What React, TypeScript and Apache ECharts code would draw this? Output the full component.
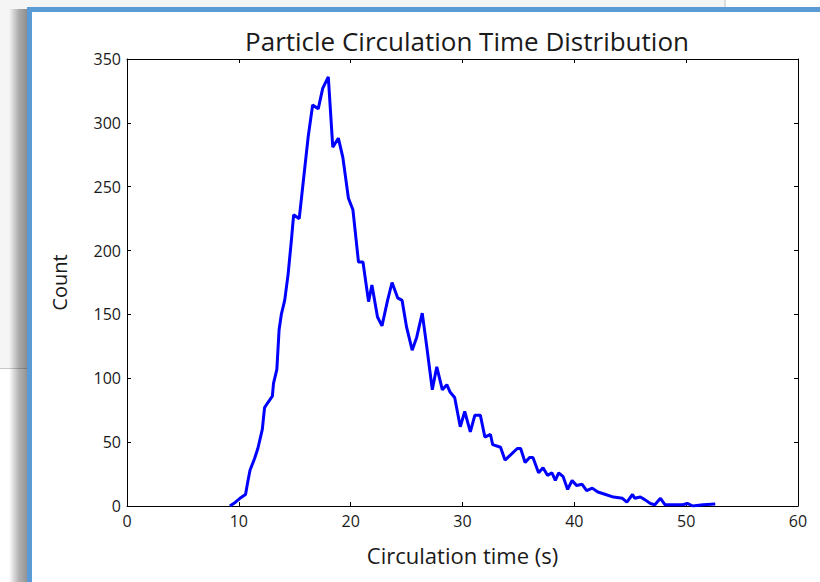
import React, { useEffect, useRef } from "react";
import * as echarts from "echarts";

const titleText = "Particle Circulation Time Distribution";
const xAxisName = "Circulation time (s)";
const yAxisName = "Count";

const circulationTime = [
  9.2, 9.7, 10.1, 10.6, 10.8, 11.0, 11.4, 11.7, 12.1, 12.3, 12.6, 13.0, 13.1, 13.4,
  13.6, 13.8, 14.1, 14.4, 14.7, 14.9, 15.4, 15.8, 16.2, 16.6, 17.1, 17.5, 18.0, 18.4,
  18.9, 19.3, 19.8, 20.2, 20.7, 21.1, 21.6, 21.9, 22.4, 22.8, 23.3, 23.7, 24.2, 24.6,
  25.0, 25.5, 25.9, 26.4, 26.8, 27.3, 27.7, 28.2, 28.6, 28.9, 29.3, 29.8, 30.2, 30.7,
  31.1, 31.6, 32.0, 32.5, 32.7, 33.4, 33.8, 34.3, 34.9, 35.2, 35.6, 36.0, 36.3, 36.8,
  37.2, 37.6, 38.0, 38.3, 38.6, 39.0, 39.4, 39.8, 40.2, 40.7, 41.1, 41.6, 42.1, 42.8,
  43.5, 44.3, 44.7, 45.2, 45.4, 45.9, 46.3, 46.8, 47.2, 47.7, 48.1, 48.8, 49.7, 50.1,
  50.6, 51.5, 52.6,
];

const counts = [
  0, 3, 6, 9, 19, 28, 37, 45, 60, 77, 81, 86, 96, 107,
  138, 150, 161, 181, 208, 228, 225, 257, 289, 314, 311, 327, 336, 281,
  288, 273, 241, 232, 191, 191, 160, 173, 148, 141, 161, 175, 163, 161,
  140, 122, 132, 151, 125, 91, 109, 91, 95, 89, 85, 62, 74, 58,
  71, 71, 54, 56, 48, 46, 36, 40, 45, 45, 34, 38, 38, 26,
  30, 24, 26, 20, 26, 23, 13, 20, 16, 17, 12, 14, 11, 9,
  7, 6, 3, 9, 6, 7, 5, 2, 1, 6, 1, 1, 1, 2,
  0, 1, 1.5,
];

const xTicks = [0, 10, 20, 30, 40, 50, 60];
const yTicks = [0, 50, 100, 150, 200, 250, 300, 350];

const FONT = "Open Sans";
const TXT = "#1a1a1a";

export default function App() {
  const ref = useRef<HTMLDivElement>(null);

  useEffect(() => {
    if (!ref.current) return;
    const chart = echarts.init(ref.current, null, { renderer: "svg" });
    const data = circulationTime.map((x, i) => [x, counts[i]]);
    const xMin = xTicks[0];
    const xMax = xTicks[xTicks.length - 1];
    const xInt = xTicks[1] - xTicks[0];
    const yMin = yTicks[0];
    const yMax = yTicks[yTicks.length - 1];
    const yInt = yTicks[1] - yTicks[0];

    const axisLine = { show: true, onZero: false, lineStyle: { color: "#000", width: 1 } };
    const tick = { show: true, inside: true, length: 4, lineStyle: { color: "#000", width: 1 } };

    chart.setOption({
      animation: false,
      backgroundColor: "transparent",
      title: {
        text: titleText,
        left: 462,
        top: 23,
        textAlign: "center",
        textStyle: { fontFamily: FONT, fontSize: 26, fontWeight: "normal", color: TXT },
      },
      grid: { left: 127, right: 22, top: 59, bottom: 76, containLabel: false },
      xAxis: [
        {
          type: "value",
          min: xMin,
          max: xMax,
          interval: xInt,
          position: "bottom",
          name: xAxisName,
          nameLocation: "middle",
          nameGap: 38,
          nameTextStyle: { fontFamily: FONT, fontSize: 22, color: TXT },
          axisLine,
          axisTick: tick,
          axisLabel: { margin: 7, fontFamily: FONT, fontSize: 16, color: TXT },
          splitLine: { show: false },
        },
        {
          type: "value",
          min: xMin,
          max: xMax,
          interval: xInt,
          position: "top",
          axisLine,
          axisTick: tick,
          axisLabel: { show: false },
          splitLine: { show: false },
        },
      ],
      yAxis: [
        {
          type: "value",
          min: yMin,
          max: yMax,
          interval: yInt,
          position: "left",
          name: yAxisName,
          nameLocation: "middle",
          nameGap: 58,
          nameTextStyle: { fontFamily: FONT, fontSize: 20, color: TXT },
          axisLine,
          axisTick: tick,
          axisLabel: { margin: 6, fontFamily: FONT, fontSize: 16, color: TXT },
          splitLine: { show: false },
        },
        {
          type: "value",
          min: yMin,
          max: yMax,
          interval: yInt,
          position: "right",
          axisLine,
          axisTick: tick,
          axisLabel: { show: false },
          splitLine: { show: false },
        },
      ],
      series: [
        {
          type: "line",
          data,
          xAxisIndex: 0,
          yAxisIndex: 0,
          showSymbol: false,
          symbol: "none",
          lineStyle: { color: "#0000ff", width: 3 },
          z: 5,
        },
      ],
    });
    return () => chart.dispose();
  }, []);

  const abs = (s: React.CSSProperties): React.CSSProperties => ({ position: "absolute", ...s });

  return (
    <div style={abs({ left: 0, top: 0, width: 820, height: 582, background: "#f5f5f5", overflow: "hidden" })}>
      {/* lower-left page area */}
      <div style={abs({ left: 0, top: 369, width: 27, height: 213, background: "#ffffff" })} />
      <div style={abs({ left: 0, top: 368, width: 27, height: 1, background: "#c8c8c8" })} />
      {/* top-right page area */}
      <div style={abs({ left: 726, top: 0, width: 94, height: 7, background: "#ffffff" })} />
      <div style={abs({ left: 724, top: 0, width: 2, height: 7, background: "#dcdcdc" })} />
      {/* shadow */}
      <div
        style={abs({
          left: 9,
          top: 9,
          width: 18,
          height: 573,
          background: "linear-gradient(to right, rgba(0,0,0,0), rgba(0,0,0,0.3) 55%, rgba(0,0,0,0.42))",
        })}
      />
      {/* blue frame */}
      <div style={abs({ left: 27, top: 7, width: 793, height: 575, background: "#5b9bd5" })} />
      <div style={abs({ left: 32, top: 12, width: 788, height: 570, background: "#ffffff" })} />
      <div ref={ref} style={abs({ left: 0, top: 0, width: 820, height: 582 })} />
    </div>
  );
}
